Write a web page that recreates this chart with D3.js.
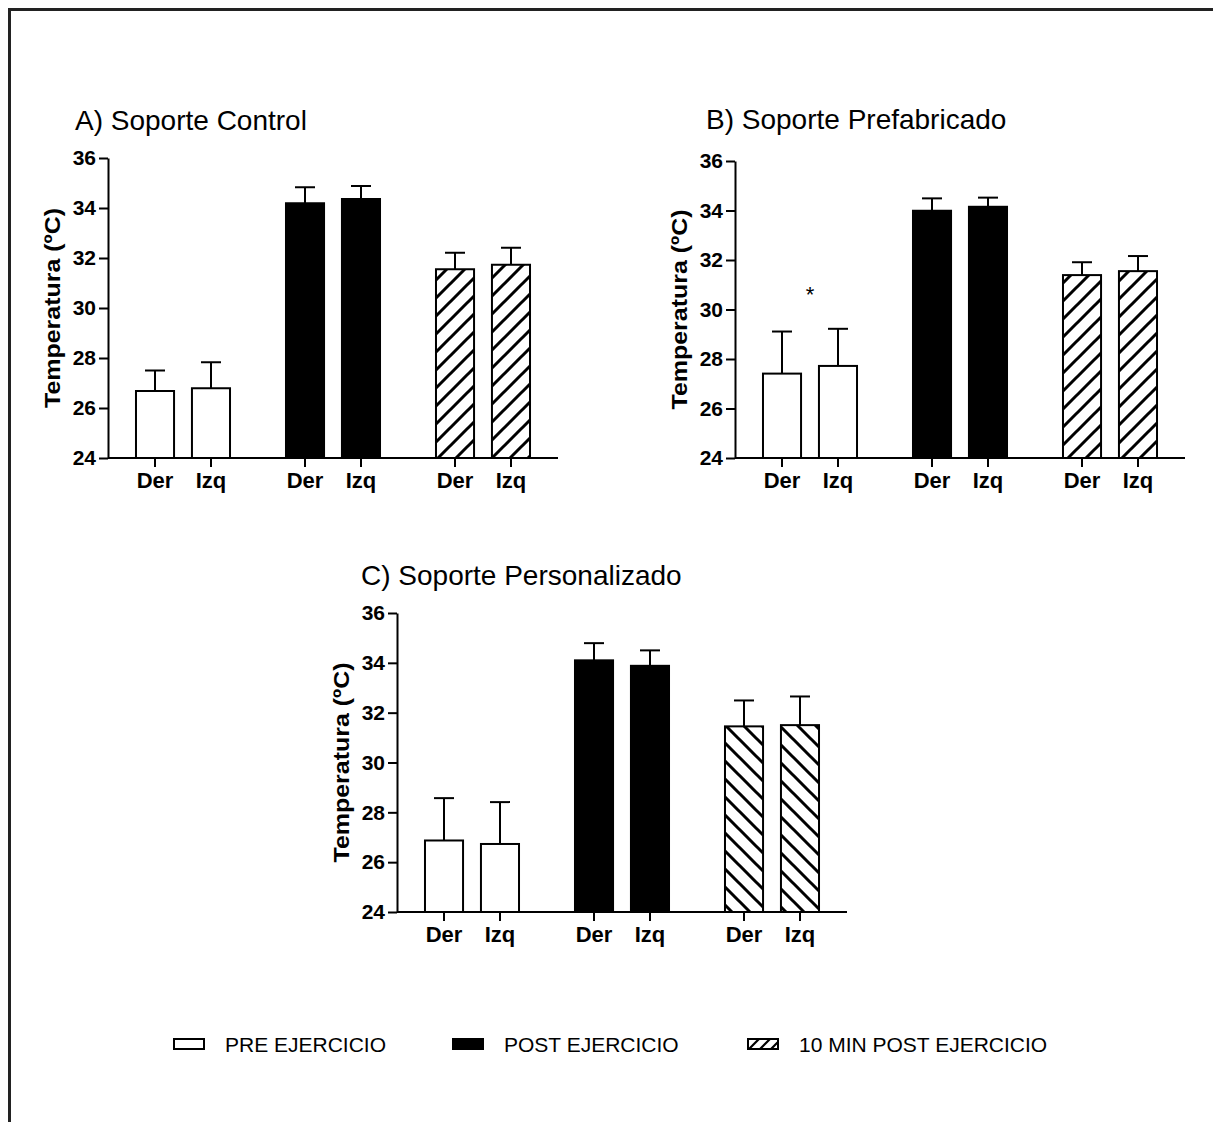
<!DOCTYPE html>
<meta charset="utf-8">
<style>
body{margin:0;background:#fff;}
svg text{font-family:Arial,"Liberation Sans",sans-serif;fill:#000;}
</style>
<body>
<script src="https://d3js.org/d3.v7.min.js"></script>
<script>
// data (mean, sd upward)
var groups = ["PRE EJERCICIO", "POST EJERCICIO", "10 MIN POST EJERCICIO"];
var sides = ["Der", "Izq"];
var yTicks = [24, 26, 28, 30, 32, 34, 36];

var titles = ["A) Soporte Control", "B) Soporte Prefabricado", "C) Soporte Personalizado"];

var meansA = [26.68, 26.79, 34.19, 34.36, 31.55, 31.73];
var sdA    = [0.82, 1.04, 0.64, 0.52, 0.66, 0.68];
var meansB = [27.41, 27.72, 33.99, 34.15, 31.39, 31.55];
var sdB    = [1.70, 1.50, 0.50, 0.37, 0.52, 0.61];
var meansC = [26.87, 26.73, 34.10, 33.88, 31.45, 31.50];
var sdC    = [1.70, 1.68, 0.69, 0.62, 1.04, 1.15];

// significance marks: group index + value where the star sits
var starsB = [{group: 0, value: 30.6}];

var W = 1213, H = 1122;
var svg = d3.select("body").append("svg")
  .attr("width", W)
  .attr("height", H);

var defs = svg.append("defs");
function hatch(id, size, dir, sw) {
  var p = defs.append("pattern")
    .attr("id", id)
    .attr("patternUnits", "userSpaceOnUse")
    .attr("width", size).attr("height", size);
  p.append("rect").attr("width", size).attr("height", size).attr("fill", "#fff");
  var s = size, h = size / 2;
  var d = dir == "/"
    ? "M0," + s + "L" + s + ",0M" + (-h) + "," + h + "L" + h + "," + (-h) + "M" + h + "," + (s + h) + "L" + (s + h) + "," + h
    : "M0,0L" + s + "," + s + "M" + (-h) + "," + h + "L" + h + "," + (s + h) + "M" + h + "," + (-h) + "L" + (s + h) + "," + h;
  p.append("path").attr("d", d).attr("stroke", "#000").attr("stroke-width", sw);
}
hatch("hatchF", 18, "/", 3);
hatch("hatchB", 18, "\\", 3);
hatch("hatchL", 11, "/", 2.2);

// outer frame (top + left only)
svg.append("path")
  .attr("d", "M9.5," + H + "V9.5H" + W)
  .attr("fill", "none")
  .attr("stroke", "#222")
  .attr("stroke-width", 3);

function panel(opt) {
  var g = svg.append("g").attr("transform", "translate(" + opt.x + "," + opt.y + ")");
  var plotW = 450, plotH = opt.h;

  var y = d3.scaleLinear().domain([24, 36]).range([plotH, 0]);
  var xg = d3.scaleBand().domain(d3.range(groups.length)).range([0, plotW]);
  var xs = d3.scaleBand().domain(sides).range([0, xg.bandwidth()]).paddingInner(0.32).paddingOuter(0.5);

  var rows = [];
  opt.means.forEach(function(m, i) {
    rows.push({group: Math.floor(i / 2), side: sides[i % 2], mean: m, sd: opt.sd[i]});
  });
  var cx = function(d) { return xg(d.group) + xs(d.side) + xs.bandwidth() / 2; };
  var fills = ["#fff", "#000", "url(#" + opt.hatch + ")"];

  // error bars (upward only) behind bars
  var eb = g.selectAll(".eb").data(rows).enter().append("g").attr("class", "eb")
    .attr("stroke", "#000").attr("stroke-width", 2);
  eb.append("line")
    .attr("x1", cx).attr("x2", cx)
    .attr("y1", function(d) { return y(d.mean); })
    .attr("y2", function(d) { return y(d.mean + d.sd); });
  eb.append("line")
    .attr("x1", function(d) { return cx(d) - 10; })
    .attr("x2", function(d) { return cx(d) + 10; })
    .attr("y1", function(d) { return y(d.mean + d.sd); })
    .attr("y2", function(d) { return y(d.mean + d.sd); });

  g.selectAll(".bar").data(rows).enter().append("rect")
    .attr("class", "bar")
    .attr("x", function(d) { return xg(d.group) + xs(d.side); })
    .attr("width", xs.bandwidth())
    .attr("y", function(d) { return y(d.mean); })
    .attr("height", function(d) { return plotH - y(d.mean); })
    .attr("fill", function(d) { return fills[d.group]; })
    .attr("stroke", "#000")
    .attr("stroke-width", 2);

  // y axis
  var ya = g.append("g")
    .call(d3.axisLeft(y).tickValues(yTicks).tickSize(9).tickPadding(3).tickSizeOuter(0));
  ya.attr("font-size", null).attr("font-family", null);
  ya.select(".domain").attr("stroke-width", 2);
  ya.selectAll(".tick line").attr("stroke-width", 2);
  ya.selectAll("text").style("font-size", "21px").style("font-weight", "bold");

  // x axis: tick at each bar
  var xa = g.append("g").attr("transform", "translate(0," + plotH + ")");
  xa.append("line").attr("x1", 0).attr("x2", plotW).attr("stroke", "#000").attr("stroke-width", 2);
  var xt = xa.selectAll(".xt").data(rows).enter().append("g")
    .attr("transform", function(d) { return "translate(" + cx(d) + ",0)"; });
  xt.append("line").attr("y2", 9).attr("stroke", "#000").attr("stroke-width", 2);
  xt.append("text")
    .attr("y", 14).attr("dy", "0.71em")
    .attr("text-anchor", "middle")
    .style("font-size", "22px").style("font-weight", "bold")
    .text(function(d) { return d.side; });

  // y title
  g.append("text")
    .attr("transform", "translate(-56," + (plotH / 2) + ") rotate(-90)")
    .attr("text-anchor", "middle")
    .attr("dominant-baseline", "central")
    .attr("textLength", 200)
    .attr("lengthAdjust", "spacingAndGlyphs")
    .style("font-size", "22px").style("font-weight", "bold")
    .text("Temperatura (ºC)");

  // panel title
  g.append("text")
    .attr("x", opt.titleX).attr("y", opt.titleY)
    .style("font-size", "28px")
    .text(opt.title);

  (opt.stars || []).forEach(function(s) {
    g.append("text")
      .attr("x", xg(s.group) + xg.bandwidth() / 2)
      .attr("y", y(s.value))
      .attr("text-anchor", "middle")
      .attr("dominant-baseline", "central")
      .style("font-size", "22px")
      .text("*");
  });
}

panel({x: 108, y: 158, h: 300, means: meansA, sd: sdA, hatch: "hatchF", title: titles[0], titleX: -33, titleY: -28});
panel({x: 735, y: 161, h: 297, means: meansB, sd: sdB, hatch: "hatchF", title: titles[1], titleX: -29, titleY: -32, stars: starsB});
panel({x: 397, y: 613, h: 299, means: meansC, sd: sdC, hatch: "hatchB", title: titles[2], titleX: -36, titleY: -28});

// legend
var legX = [174, 453, 748];
var legFill = ["#fff", "#000", "url(#hatchL)"];
var leg = svg.selectAll(".leg").data(groups).enter().append("g")
  .attr("class", "leg")
  .attr("transform", function(d, i) { return "translate(" + legX[i] + ",1039)"; });
leg.append("rect")
  .attr("width", 30).attr("height", 10)
  .attr("fill", function(d, i) { return legFill[i]; })
  .attr("stroke", "#000").attr("stroke-width", 2);
leg.append("text")
  .attr("x", 51).attr("y", 5)
  .attr("dominant-baseline", "central")
  .style("font-size", "21px")
  .text(function(d) { return d; });
</script>
</body>
